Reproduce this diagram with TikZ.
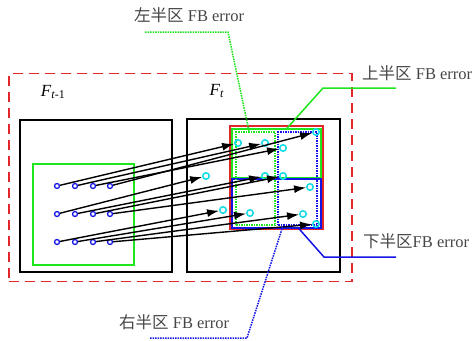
\documentclass[tikz,border=0pt]{standalone}
\usepackage{fontspec}
\setmainfont{Liberation Serif}
\newfontfamily\cjk{Noto Sans CJK SC}
\usetikzlibrary{arrows.meta,calc}
\definecolor{fbred}{RGB}{224,40,40}
\definecolor{fbgreen}{RGB}{30,230,30}
\definecolor{fbblue}{RGB}{20,20,230}
\definecolor{fbcyan}{RGB}{20,220,230}
\definecolor{fbtext}{RGB}{70,70,70}
\tikzset{
  framebox/.style={draw,line width=1.5pt,inner sep=0pt},
  outerbox/.style={framebox,draw=fbred,dash pattern=on 10pt off 6pt},
  srcdot/.style={circle,draw=fbblue,fill=white,line width=1.3pt,inner sep=0pt,minimum size=5pt},
  tgtdot/.style={circle,draw=fbcyan,line width=1.5pt,inner sep=0pt,minimum size=6.5pt},
  motion/.style={-{Latex[length=12pt,width=8pt]},line width=1.4pt},
  callout/.style={line width=1.5pt},
  fblabel/.style={anchor=west,text=fbtext,inner sep=0pt,font=\fontsize{16.5}{18}\selectfont}
}

\begin{document}
\begin{tikzpicture}[x=1pt,y=-1pt]
  \useasboundingbox (0,0) rectangle (476,340);
  % frames
  \node[outerbox,minimum width=343pt,minimum height=208pt] (outer) at (180.5,177.5) {};
  \node[framebox,minimum width=152pt,minimum height=152pt] (prev) at (96,196) {};
  \node[framebox,minimum width=153pt,minimum height=153pt] (curr) at (263.5,195.5) {};
  \node[framebox,draw=fbgreen,minimum width=101pt,minimum height=101pt] (patch) at (83.5,214.5) {};
  \node[framebox,draw=fbred,minimum width=93pt,minimum height=103pt] (search) at (276.5,177.5) {};
  \node[framebox,draw=fbgreen,minimum width=89pt,minimum height=49pt] (uphalf) at (276.5,153.5) {};
  \node[framebox,draw=fbblue,minimum width=89pt,minimum height=49pt] (downhalf) at (276.5,203.5) {};
  \node[framebox,draw=fbgreen,densely dotted,minimum width=39pt,minimum height=93pt] (lefthalf) at (255.5,178.5) {};
  \node[framebox,draw=fbblue,densely dotted,minimum width=39pt,minimum height=93pt] (righthalf) at (297.5,178.5) {};
  \node[inner sep=0pt,font=\fontsize{17}{18}\selectfont] (fprev) at (53,92) {\textit{F}\textsubscript{\textit{t}-1}};
  \node[inner sep=0pt,font=\fontsize{17}{18}\selectfont] (fcurr) at (217,91) {\textit{F}\textsubscript{\textit{t}}};
  % tracked points in F_{t-1}
  \node[srcdot] (src1) at (57,186) {};
  \node[srcdot] (src2) at (75,186) {};
  \node[srcdot] (src3) at (93,186) {};
  \node[srcdot] (src4) at (110,186) {};
  \node[srcdot] (src5) at (57,214) {};
  \node[srcdot] (src6) at (75,214) {};
  \node[srcdot] (src7) at (93,214) {};
  \node[srcdot] (src8) at (110,214) {};
  \node[srcdot] (src9) at (57,242) {};
  \node[srcdot] (src10) at (75,242) {};
  \node[srcdot] (src11) at (93,242) {};
  \node[srcdot] (src12) at (110,242) {};
  % matched points in F_t
  \node[tgtdot] (tgt1) at (238,143) {};
  \node[tgtdot] (tgt2) at (265,143) {};
  \node[tgtdot] (tgt3) at (283,148) {};
  \node[tgtdot] (tgt4) at (316,132) {};
  \node[tgtdot] (tgt5) at (206,176) {};
  \node[tgtdot] (tgt6) at (265,176) {};
  \node[tgtdot] (tgt7) at (283,176) {};
  \node[tgtdot] (tgt8) at (310,187) {};
  \node[tgtdot] (tgt9) at (223,210) {};
  \node[tgtdot] (tgt10) at (250,213) {};
  \node[tgtdot] (tgt11) at (303,214) {};
  \node[tgtdot] (tgt12) at (316,224) {};
  \draw[motion] (src1) -- (tgt1);
  \draw[motion] (src2) -- (tgt2);
  \draw[motion] (src3) -- (tgt3);
  \draw[motion] (src4) -- (tgt4);
  \draw[motion] (src5) -- (tgt5);
  \draw[motion] (src6) -- (tgt6);
  \draw[motion] (src7) -- (tgt7);
  \draw[motion] (src8) -- (tgt8);
  \draw[motion] (src9) -- (tgt9);
  \draw[motion] (src10) -- (tgt10);
  \draw[motion] (src11) -- (tgt11);
  \draw[motion] (src12) -- (tgt12);
  % callouts
  \node[fblabel] (leftlab) at (134,15) {{\cjk 左半区} FB error};
  \node[fblabel] (uplab) at (362,73) {{\cjk 上半区} FB error};
  \node[fblabel] (downlab) at (363,241) {{\cjk 下半区}FB error};
  \node[fblabel] (rightlab) at (119,322) {{\cjk 右半区} FB error};
  \coordinate (leftend) at (145,32);
  \coordinate (upend) at (396,88);
  \coordinate (downend) at (396,257);
  \coordinate (rightend) at (150,338);
  \draw[callout,draw=fbgreen,densely dotted] (leftend) -- (228,32) -- ($(lefthalf.north)+(-6.5,0)$);
  \draw[callout,draw=fbgreen] (upend) -- (323,88) -- ($(uphalf.north)+(10.5,0)$);
  \draw[callout,draw=fbblue] (downend) -- (324,257) -- ($(downhalf.south)+(22.5,0)$);
  \draw[callout,draw=fbblue,densely dotted] (rightend) -- (247,338) -- ($(righthalf.south)+(-14.5,0)$);
\end{tikzpicture}
\end{document}
